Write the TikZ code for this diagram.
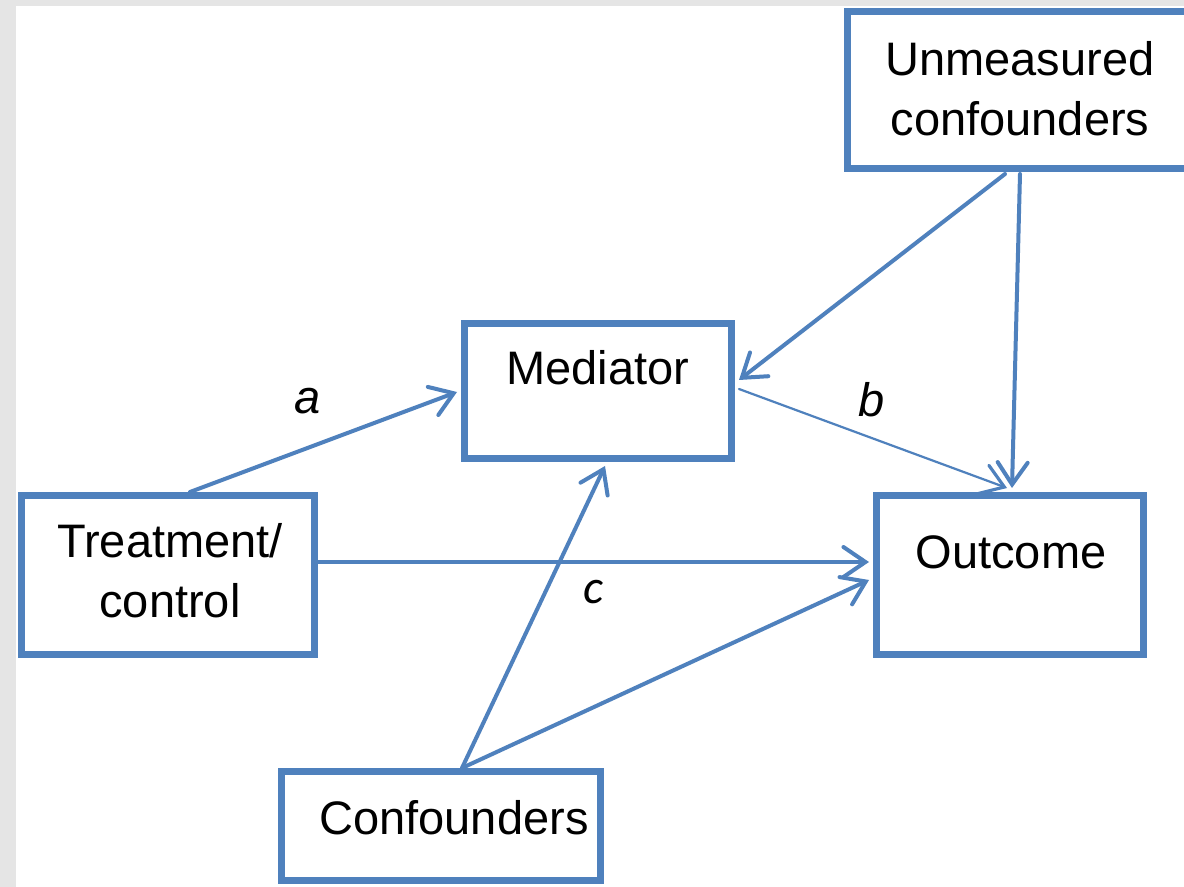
\documentclass[tikz,border=0pt]{standalone}
\usepackage{fontspec}
\setmainfont{Liberation Sans}
\newfontfamily\calfont{Carlito}
\usetikzlibrary{arrows.meta,calc}
\definecolor{boxblue}{RGB}{79,129,189}
\definecolor{bggray}{RGB}{229,229,229}
\tikzset{
  box/.style={draw=boxblue, line width=3.5pt, fill=white, rectangle, inner sep=0pt},
  lbl/.style={font=\fontsize{23.5}{30}\selectfont, align=center, inner sep=0pt, text=black},
  pathlbl/.style={font=\fontsize{23.5}{30}\selectfont\itshape, inner sep=0pt, text=black},
  conn/.style={draw=boxblue, line width=2pt, line cap=round,
    -{Straight Barb[length=11pt, width=15pt, line width=2pt, line cap=round]}},
  thinconn/.style={draw=boxblue, line width=1.1pt, line cap=round,
    -{Straight Barb[length=11pt, width=15pt, line width=1.6pt, line cap=round]}}
}
\begin{document}
\begin{tikzpicture}[x=0.5pt,y=-0.5pt]
\useasboundingbox (0,0) rectangle (1184,887);
\clip (0,0) rectangle (1184,887);
\fill[bggray] (0,0) rectangle (1184,887);
\fill[white] (16,6) rectangle (1184,887);

% boxes
\node[box, minimum width=172.5pt, minimum height=78.5pt] (unm) at (1020,90) {};
\node[box, minimum width=133.5pt, minimum height=67.5pt] (med) at (598,391) {};
\node[box, minimum width=146.5pt, minimum height=79.5pt] (tre) at (168,575) {};
\node[box, minimum width=133.5pt, minimum height=79.5pt] (out) at (1010,575) {};
\node[box, minimum width=159.5pt, minimum height=54.5pt] (con) at (441,826) {};

% texts
\node[lbl] (unmt) at (1020,89) {Unmeasured\\confounders};
\node[lbl] (medt) at (598,368) {Mediator};
\node[lbl] (tret) at (170,571) {Treatment/\\control};
\node[lbl] (outt) at (1011,552) {Outcome};
\node[lbl] (cont) at (454,818) {Confounders};

% connectors
\draw[conn] ([xshift=11pt]tre.north) -- ([yshift=-0.5pt,xshift=-2pt]med.west);
\draw[conn] ([yshift=6.5pt]tre.east) -- ([yshift=6.5pt,xshift=-2pt]out.west);
\draw[conn] ([xshift=10.5pt]con.north) -- ([xshift=3.5pt,yshift=-2pt]med.south);
\draw[conn] ([xshift=10.5pt]con.north) -- ([yshift=-2.5pt,xshift=-2pt]out.west);
\draw[conn] ([xshift=-7.5pt,yshift=-1pt]unm.south) -- ([yshift=5.5pt,xshift=2pt]med.east);
\draw[conn] ([yshift=-1pt]unm.south) -- ([xshift=1pt,yshift=2pt]out.north);
\draw[thinconn] ([xshift=2pt,yshift=1pt]med.east) -- ([xshift=-1.5pt,yshift=2pt]out.north);

% path labels
\node[pathlbl] (la) at (308,401) {a};
\node[pathlbl] (lb) at (872,400) {b};
\node[pathlbl, font=\fontsize{24}{30}\selectfont\calfont\itshape] (lc) at (593,592) {c};
\end{tikzpicture}
\end{document}
